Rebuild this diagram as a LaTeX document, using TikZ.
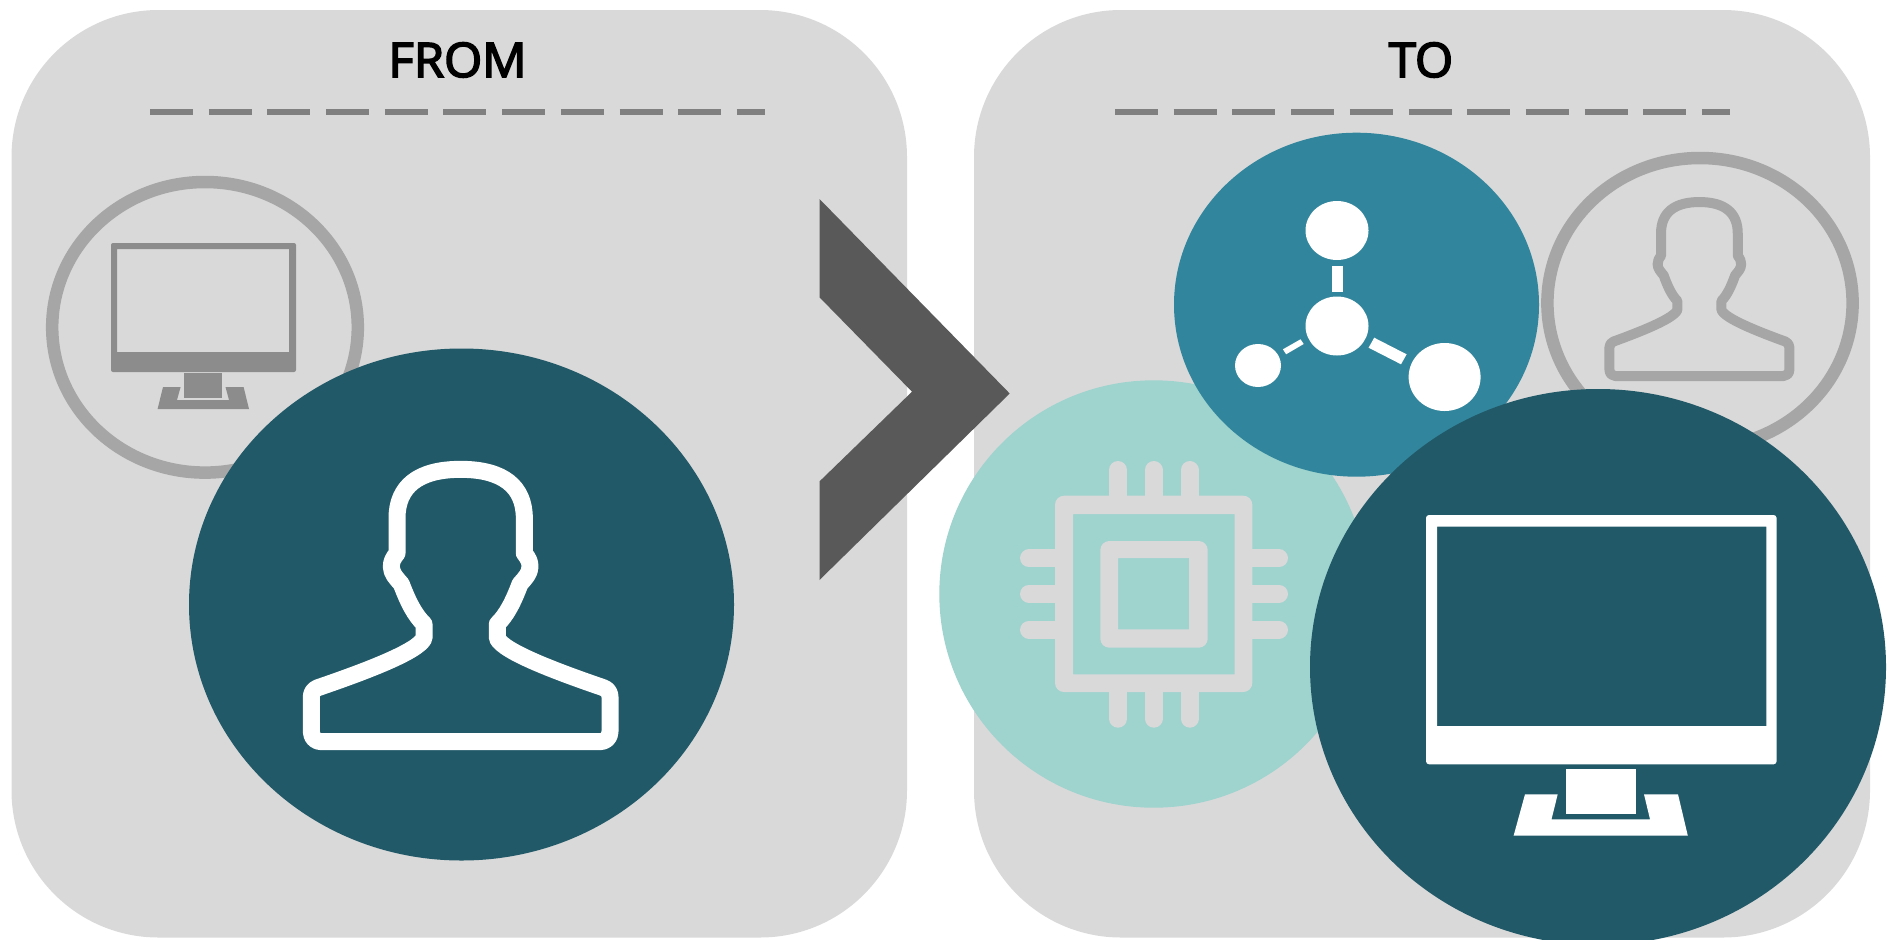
\documentclass[tikz,border=0pt]{standalone}
\usepackage{fontspec}
\setmainfont{Open Sans}
\newfontfamily\titlefont{Open Sans}[FakeBold=3.5,FakeStretch=1.03]
\newdimen\pxu
\pxu=0.05cm
\definecolor{panelgrey}{HTML}{D9D9D9}
\definecolor{ringgrey}{HTML}{A6A6A6}
\definecolor{smallmon}{HTML}{8C8C8C}
\definecolor{dashgrey}{HTML}{808080}
\definecolor{chevgrey}{HTML}{595959}
\definecolor{darkteal}{HTML}{215968}
\definecolor{midteal}{HTML}{31859C}
\definecolor{lightteal}{HTML}{9ED3CE}
\newcommand{\personpath}{(542,118)
  .. controls (670,118) and (733,170) .. (733,265)
  -- (733,370)
  .. controls (745,385) and (750,395) .. (750,410)
  .. controls (750,430) and (735,445) .. (720,462)
  .. controls (700,515) and (680,555) .. (652,582)
  -- (652,625)
  .. controls (670,665) and (830,725) .. (970,773)
  .. controls (983,778) and (990,788) .. (990,800)
  -- (990,905)
  .. controls (990,925) and (975,935) .. (960,935)
  -- (124,935)
  .. controls (109,935) and (94,925) .. (94,905)
  -- (94,800)
  .. controls (94,788) and (101,778) .. (114,773)
  .. controls (254,725) and (414,665) .. (432,625)
  -- (432,582)
  .. controls (404,555) and (384,515) .. (364,462)
  .. controls (349,445) and (334,430) .. (334,410)
  .. controls (334,395) and (339,385) .. (351,370)
  -- (351,265)
  .. controls (351,170) and (414,118) .. (542,118) -- cycle}
\tikzset{
  panel/.style={fill=panelgrey,rounded corners=147\pxu},
  ringline/.style={draw=ringgrey,line width=12.5\pxu},
  rule/.style={draw=dashgrey,line width=6\pxu,dash pattern=on 61.17pt off 22.34pt},
  title/.style={inner sep=0pt,anchor=base,font=\fontsize{67.7pt}{80pt}\titlefont},
  pin/.style={draw=panelgrey,line width=18\pxu,line cap=round}
}
\begin{document}
\begin{tikzpicture}[x=0.05cm,y=-0.05cm]
\useasboundingbox (0,0) rectangle (1887,939);
\clip (0,0) rectangle (1887,939);
% panels
\fill[panel] (11.5,10) rectangle (907,937.5);
\fill[panel] (974,10) rectangle (1870,937.5);
% titles
\node[title] (fromlabel) at (457.5,77) {FROM};
\node[title] (tolabel) at (1421,77) {TO};
% dashed rules
\coordinate (ruleAa) at (150,112);
\coordinate (ruleAb) at (765,112);
\coordinate (ruleBa) at (1115,112);
\coordinate (ruleBb) at (1730,112);
\draw[rule] (ruleAa) -- (ruleAb);
\draw[rule] (ruleBa) -- (ruleBb);
% left ring + monitor
\draw[ringline] (205,327.3) ellipse [x radius=152.8,y radius=145.3];
\fill[smallmon,even odd rule,rounded corners=2\pxu] (111,243) rectangle (296,372)
  [sharp corners] (117,249) rectangle (289,352);
\fill[smallmon] (184,373) rectangle (222,398);
\fill[smallmon] (157.6,409) -- (163,387) -- (180.6,387) -- (177,400) -- (229,400)
  -- (225.5,387) -- (243.6,387) -- (249,409) -- cycle;
% left large disc + person
\fill[darkteal] (461.5,604.5) ellipse [x radius=272.5,y radius=256];
\begin{scope}[shift={(280,430)},xscale=1/3,yscale=1/3]
  \draw[white,line width=17\pxu,line join=round] \personpath;
\end{scope}
% chevron
\fill[chevgrey] (819.5,199) -- (1009.7,393.5) -- (819.5,580) -- (819.5,481.4)
  -- (912,391.7) -- (819.5,297.3) -- cycle;
% right ring + person
\draw[ringline] (1700,303) ellipse [x radius=152.6,y radius=145];
\begin{scope}[shift={(1590.55,176.9)},xscale=0.2008,yscale=0.213]
  \draw[ringgrey,line width=10\pxu,line join=round] \personpath;
\end{scope}
% light disc + chip
\fill[lightteal] (1153.7,594) ellipse [x radius=214.4,y radius=213.7];
\foreach \xx in {1118,1153.7,1189.7}{
  \draw[pin] (\xx,470) -- (\xx,500);
  \draw[pin] (\xx,688) -- (\xx,718.7);
}
\foreach \yy in {558.3,593.7,629.7}{
  \draw[pin] (1029,\yy) -- (1060,\yy);
  \draw[pin] (1248,\yy) -- (1279,\yy);
}
\fill[panelgrey,even odd rule,rounded corners=9\pxu] (1055,495.7) rectangle (1252.3,692)
  [sharp corners] (1073,514) rectangle (1234.7,674.3);
\fill[panelgrey,even odd rule,rounded corners=9\pxu] (1100.3,541) rectangle (1207.7,647.7)
  [sharp corners] (1118,558) rectangle (1189,629.3);
% mid disc + network
\fill[midteal] (1356.5,304.7) ellipse [x radius=182.5,y radius=172];
\fill[white] (1337,230.5) ellipse [x radius=31.5,y radius=29.5];
\fill[white] (1337,326) ellipse [x radius=31.5,y radius=29.5];
\fill[white] (1258,365.5) ellipse [x radius=23,y radius=21.5];
\fill[white] (1444.6,377) ellipse [x radius=36,y radius=34];
\fill[white] (1331.5,266) rectangle (1342.7,292);
\fill[white] (1282.9,349.3) -- (1300.5,339.3) -- (1303.7,344) -- (1286.1,354.3) -- cycle;
\fill[white] (1374.2,337.7) -- (1406.6,354.3) -- (1401,364.3) -- (1368.6,347.7) -- cycle;
% right large disc + monitor
\fill[darkteal] (1598,667) ellipse [x radius=288,y radius=278];
\fill[white,even odd rule,rounded corners=3\pxu] (1426,515) rectangle (1776.6,764.3)
  [sharp corners] (1437.2,526.7) rectangle (1766.4,726);
\fill[white] (1566,769) rectangle (1636.3,814);
\fill[white] (1513.6,835.7) -- (1525,794.3) -- (1557.7,794.3) -- (1551.5,819.3) -- (1650,819.3)
  -- (1644,794.3) -- (1678,794.3) -- (1687.8,835.7) -- cycle;
\end{tikzpicture}
\end{document}
